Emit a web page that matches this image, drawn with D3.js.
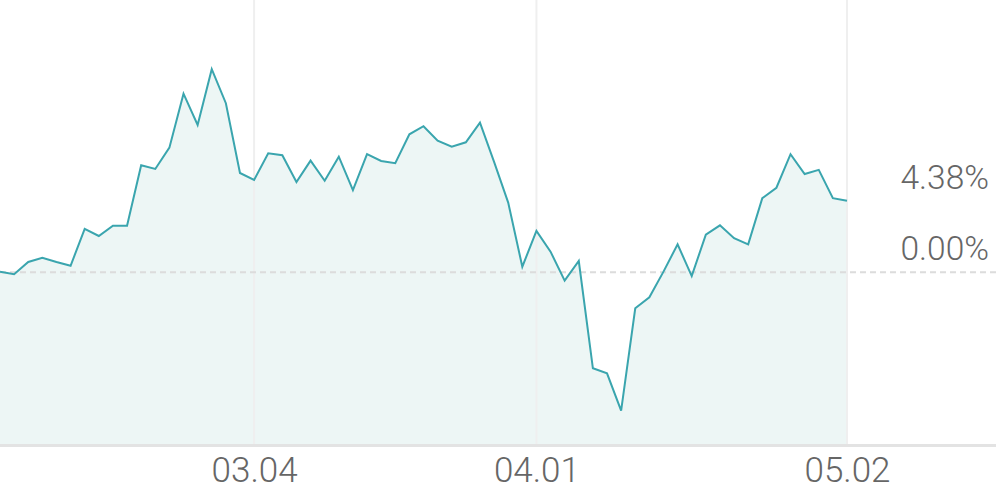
<!DOCTYPE html>
<html><head><meta charset="utf-8">
<script src="https://cdn.jsdelivr.net/npm/d3@7"></script>
<style>html,body{margin:0;padding:0;background:#fff;}svg{display:block;}</style>
</head><body>
<svg id="c" width="996" height="490"></svg>
<script>
const dates = ["02.02","02.05","02.06","02.07","02.08","02.13","02.14","02.15","02.16","02.19",
"02.20","02.21","02.22","02.23","02.26","02.27","02.28","02.29","03.04","03.05",
"03.06","03.07","03.08","03.11","03.12","03.13","03.14","03.15","03.18","03.19",
"03.20","03.21","03.22","03.25","03.26","03.27","03.28","03.29","04.01","04.02",
"04.03","04.04","04.05","04.08","04.09","04.11","04.12","04.15","04.16","04.17",
"04.18","04.19","04.22","04.23","04.24","04.25","04.26","04.29","04.30","05.01","05.02"];
const returns = [0.04,-0.12,0.63,0.89,0.63,0.40,2.65,2.22,2.85,2.85,
6.54,6.32,7.62,10.92,9.01,12.42,10.34,6.07,5.65,7.28,
7.16,5.52,6.83,5.60,7.07,5.03,7.22,6.81,6.67,8.44,
8.93,8.05,7.68,7.95,9.15,6.75,4.26,0.34,2.53,1.26,
-0.51,0.69,-5.87,-6.18,-8.46,-2.20,-1.53,0.04,1.71,-0.23,
2.30,2.87,2.08,1.71,4.53,5.17,7.22,6.01,6.26,4.53,4.38];
const tickDates = ["03.04","04.01","05.02"];
const refValues = [0, 4.38];

const W = 996, H = 490, plotBottom = 444, plotRight = 847;
const svg = d3.select("#c");
const x = d3.scalePoint().domain(dates).range([0, plotRight]);
const y = d3.scaleLinear().domain([-10.5, 16.65]).range([plotBottom, 0]);

// area
svg.append("path").datum(returns)
  .attr("d", d3.area().x((d,i)=>x(dates[i])).y0(plotBottom).y1(d=>y(d)))
  .attr("fill", "#edf6f5");

// vertical grid
svg.append("g").selectAll("line").data(tickDates).join("line")
  .attr("x1", d=>x(d)).attr("x2", d=>x(d)).attr("y1", 0).attr("y2", plotBottom)
  .attr("stroke", "#efefef").attr("stroke-width", 2);

// zero dashed line
svg.append("line").attr("x1", 0).attr("x2", W).attr("y1", y(0)).attr("y2", y(0))
  .attr("stroke", "#dcdcdc").attr("stroke-width", 2).attr("stroke-dasharray", "6,4");

// line
svg.append("path").datum(returns)
  .attr("d", d3.line().x((d,i)=>x(dates[i])).y(d=>y(d)))
  .attr("fill", "none").attr("stroke", "#3aa5ae").attr("stroke-width", 2)
  .attr("stroke-linejoin", "miter");

// bottom axis
const xAxis = d3.axisBottom(x).tickValues(tickDates).tickSize(0).tickPadding(13);
const gx = svg.append("g").attr("transform", `translate(0,${plotBottom})`).call(xAxis);
gx.select(".domain").remove();
gx.selectAll("text").attr("font-family","Roboto").attr("font-weight",300)
  .attr("font-size", 35).attr("fill", "#666").attr("dy", "0.71em");
svg.append("line").attr("x1", 0).attr("x2", W).attr("y1", plotBottom+1.5).attr("y2", plotBottom+1.5)
  .attr("stroke", "#e3e3e3").attr("stroke-width", 3);

// right labels
svg.append("g").selectAll("text").data(refValues).join("text")
  .attr("x", 989).attr("y", d=> y(d)-12)
  .attr("text-anchor", "end").attr("font-family","Roboto").attr("font-weight",300)
  .attr("font-size", 33.5).attr("fill", "#666")
  .text(d=>d.toFixed(2)+"%");
</script>
</body></html>
